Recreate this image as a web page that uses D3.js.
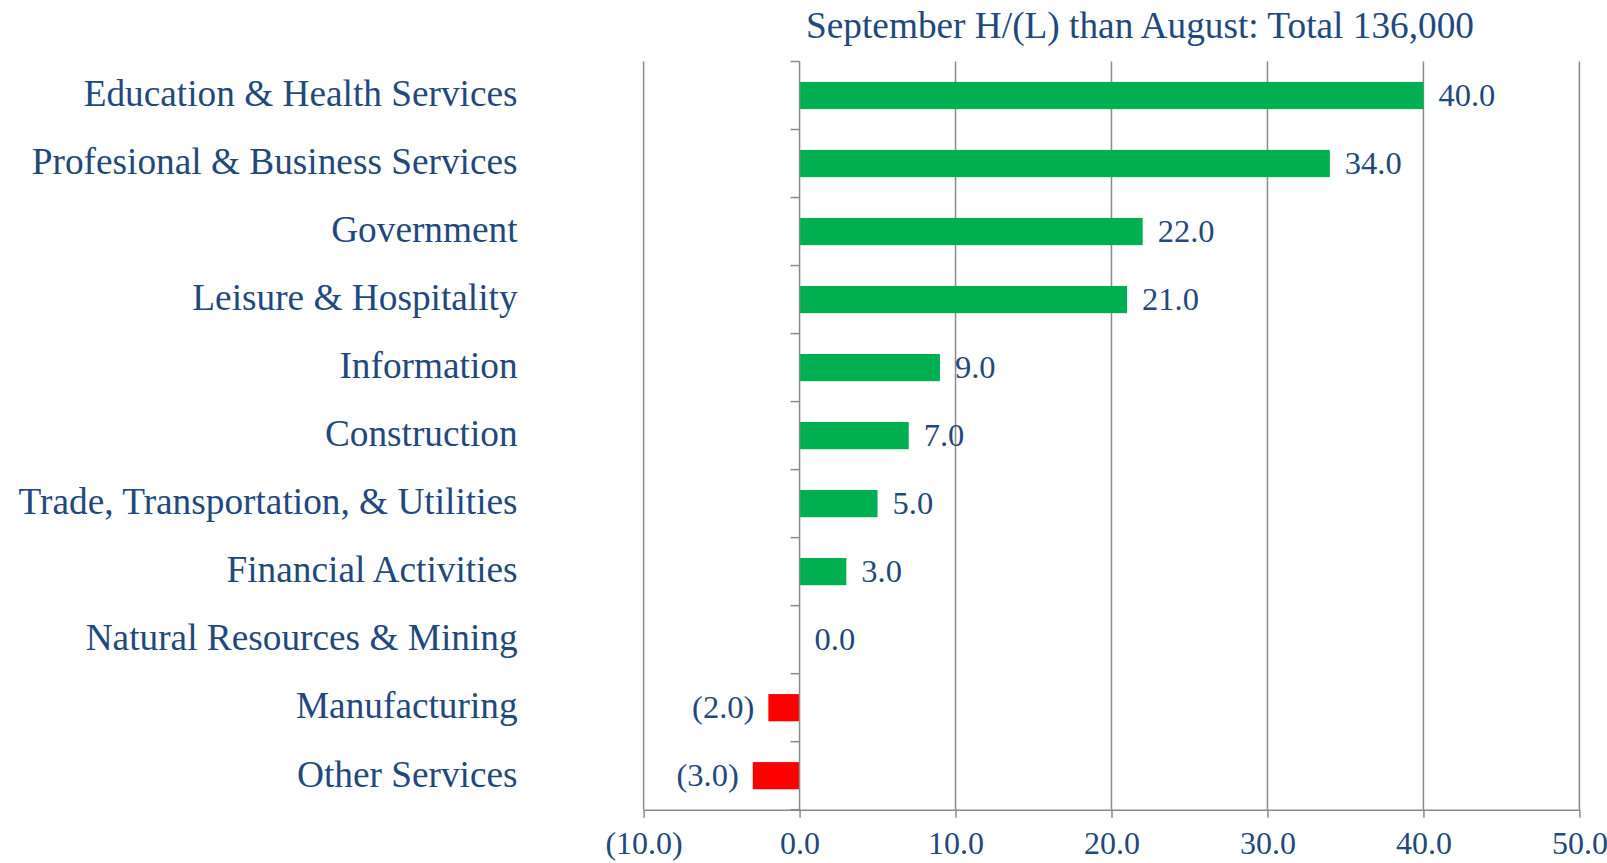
<!DOCTYPE html>
<html lang="en">
<head>
  <meta charset="utf-8">
  <title>September H/(L) than August</title>
  <script src="https://d3js.org/d3.v7.min.js"></script>
  <style>
    body { margin: 0; background: #fff; }
    #chart text { font-family: "Liberation Serif", "Times New Roman", serif; fill: #1F497D; }
  </style>
</head>
<body>
  <div id="chart"></div>
<script>
// categories top to bottom
var categorias = ["Education & Health Services", "Profesional & Business Services", "Government",
  "Leisure & Hospitality", "Information", "Construction", "Trade, Transportation, & Utilities",
  "Financial Activities", "Natural Resources & Mining", "Manufacturing", "Other Services"];
var valores = [40.0, 34.0, 22.0, 21.0, 9.0, 7.0, 5.0, 3.0, 0.0, -2.0, -3.0];
var ticksX = [-10, 0, 10, 20, 30, 40, 50];
var titulo = "September H/(L) than August: Total 136,000";

var larguraSVG = 1607, alturaSVG = 863;
var margin = {top: 61.5, left: 643.6, right: larguraSVG - 1579.4, bottom: alturaSVG - 809.7};
var larguraVis = larguraSVG - margin.left - margin.right,
    alturaVis = alturaSVG - margin.top - margin.bottom;

var fmt = function(v) {
  var s = d3.format(".1f")(Math.abs(v));
  return v < 0 ? "(" + s + ")" : s;
};

var svg = d3.select("#chart").append("svg")
    .attr("width", larguraSVG)
    .attr("height", alturaSVG);

var g = svg.append("g")
    .attr("transform", "translate(" + margin.left + "," + margin.top + ")");

var x = d3.scaleLinear().domain([-10, 50]).range([0, larguraVis]);
var y = d3.scaleBand().domain(categorias).range([0, alturaVis]).paddingInner(0.6).paddingOuter(0.3);

// gridlines
g.append("g").selectAll("line")
  .data(ticksX.filter(function(d) { return d !== 0; }))
  .enter().append("line")
    .attr("x1", function(d) { return x(d); })
    .attr("x2", function(d) { return x(d); })
    .attr("y1", 0).attr("y2", alturaVis)
    .attr("stroke", "#8a8a8a").attr("stroke-width", 1.5);

// bars
g.append("g").selectAll("rect")
  .data(valores)
  .enter().append("rect")
    .attr("x", function(d) { return x(Math.min(0, d)); })
    .attr("width", function(d) { return Math.abs(x(d) - x(0)); })
    .attr("y", function(d, i) { return y(categorias[i]); })
    .attr("height", y.bandwidth())
    .attr("fill", function(d) { return d < 0 ? "#FF0000" : "#00B050"; });

// value labels
g.append("g").selectAll("text")
  .data(valores)
  .enter().append("text")
    .attr("x", function(d) { return d < 0 ? x(d) - 14 : x(d) + 15; })
    .attr("y", function(d, i) { return y(categorias[i]) + y.bandwidth() / 2; })
    .attr("dy", "0.33em")
    .attr("text-anchor", function(d) { return d < 0 ? "end" : "start"; })
    .style("font-size", "32.5px")
    .text(fmt);

// bottom axis
var eixoX = g.append("g")
    .attr("transform", "translate(0," + alturaVis + ")")
    .call(d3.axisBottom(x).tickValues(ticksX).tickSize(8).tickSizeOuter(0).tickPadding(14).tickFormat(fmt));
eixoX.select(".domain").attr("stroke", "#8a8a8a").attr("stroke-width", 1.5);
eixoX.selectAll(".tick line").attr("stroke", "#8a8a8a").attr("stroke-width", 1.5);
eixoX.selectAll("text").style("font-size", "32px").attr("fill", "#1F497D");

// category axis at zero
var limites = d3.range(categorias.length + 1).map(function(i) { return i * alturaVis / categorias.length; });
var eixoY = g.append("g").attr("transform", "translate(" + x(0) + ",0)");
eixoY.append("line").attr("y1", 0).attr("y2", alturaVis)
    .attr("stroke", "#8a8a8a").attr("stroke-width", 1.5);
eixoY.selectAll("line.tk").data(limites).enter().append("line")
    .attr("class", "tk")
    .attr("x1", -9).attr("x2", 0)
    .attr("y1", function(d) { return d; }).attr("y2", function(d) { return d; })
    .attr("stroke", "#8a8a8a").attr("stroke-width", 1.5);

// category labels
svg.append("g").selectAll("text")
  .data(categorias)
  .enter().append("text")
    .attr("x", 517.6)
    .attr("y", function(d) { return margin.top + y(d) + y.bandwidth() / 2; })
    .attr("dy", "0.29em")
    .attr("text-anchor", "end")
    .style("font-size", "37.3px")
    .text(function(d) { return d; });

// title
svg.append("text")
    .attr("x", 1140)
    .attr("y", 38)
    .attr("text-anchor", "middle")
    .style("font-size", "37.3px")
    .text(titulo);
</script>
</body>
</html>
